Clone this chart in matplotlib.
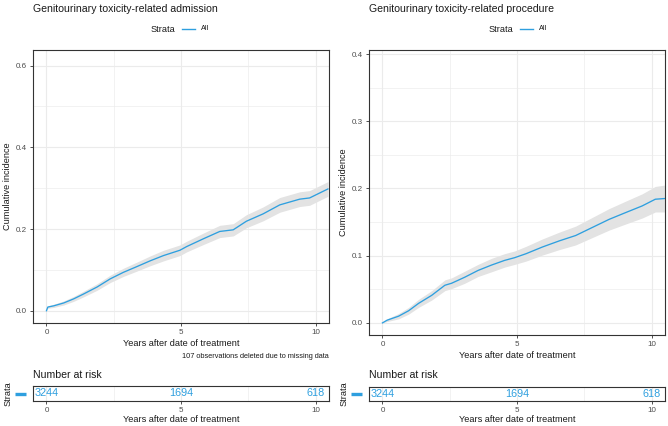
import matplotlib
matplotlib.use("Agg")
import matplotlib.pyplot as plt
from matplotlib.lines import Line2D

plt.rcParams['font.family'] = ['Liberation Sans', 'DejaVu Sans']

# ---- data ----
adm_time = [0, 0.05, 0.27, 0.64, 1.01, 1.38, 1.88, 2.37, 2.86, 3.36, 3.85, 4.35, 4.96,
            5.21, 5.83, 6.44, 6.94, 7.43, 8.05, 8.67, 9.41, 9.78, 10.15, 10.46]
adm_est = [0, 0.009, 0.012, 0.019, 0.029, 0.041, 0.058, 0.078, 0.094, 0.108, 0.122, 0.135, 0.148,
           0.157, 0.176, 0.194, 0.198, 0.219, 0.237, 0.259, 0.273, 0.276, 0.288, 0.298]
adm_lo = [0, 0.006, 0.008, 0.014, 0.023, 0.034, 0.050, 0.069, 0.084, 0.097, 0.110, 0.122, 0.135,
          0.144, 0.162, 0.179, 0.183, 0.203, 0.220, 0.241, 0.255, 0.258, 0.270, 0.280]
adm_hi = [0, 0.012, 0.016, 0.024, 0.035, 0.048, 0.066, 0.087, 0.104, 0.119, 0.134, 0.148, 0.161,
          0.170, 0.190, 0.209, 0.213, 0.235, 0.254, 0.277, 0.291, 0.294, 0.306, 0.316]

proc_time = [0, 0.17, 0.60, 0.97, 1.34, 1.83, 2.32, 2.57, 3.06, 3.55, 4.05, 4.54, 4.91,
             5.34, 5.95, 6.57, 7.18, 7.80, 8.42, 9.03, 9.65, 10.14, 10.48]
proc_est = [0, 0.004, 0.010, 0.018, 0.029, 0.041, 0.056, 0.059, 0.068, 0.078, 0.086, 0.093, 0.097,
            0.103, 0.113, 0.122, 0.130, 0.142, 0.154, 0.164, 0.174, 0.184, 0.185]
proc_lo = [0, 0.002, 0.006, 0.013, 0.023, 0.034, 0.048, 0.051, 0.059, 0.069, 0.076, 0.083, 0.087,
           0.092, 0.101, 0.109, 0.116, 0.127, 0.138, 0.147, 0.156, 0.165, 0.165]
proc_hi = [0, 0.006, 0.014, 0.023, 0.035, 0.048, 0.064, 0.067, 0.077, 0.087, 0.096, 0.103, 0.107,
           0.114, 0.125, 0.135, 0.144, 0.157, 0.170, 0.181, 0.192, 0.203, 0.205]

risk_times = [0, 5, 10]
risk_counts = [3244, 1694, 618]

titles = ["Genitourinary toxicity-related admission", "Genitourinary toxicity-related procedure"]
xlabel = "Years after date of treatment"
ylabel = "Cumulative incidence"
caption = "107 observations deleted due to missing data"

LINE_C = "#2E9FDF"
BAND_C = "#E3E3E3"
GRID_C = "#EBEBEB"
TICK_C = "#4D4D4D"

W, H = 668, 426
fig = plt.figure(figsize=(W / 100, H / 100), dpi=100)


def ax_px(x0, y0, x1, y1):
    return fig.add_axes([x0 / W, 1 - y1 / H, (x1 - x0) / W, (y1 - y0) / H])


def style(ax):
    for s in ax.spines.values():
        s.set_color("#333333")
        s.set_linewidth(0.8)
    ax.tick_params(axis='both', colors="#333333", labelcolor=TICK_C, labelsize=5.8,
                   length=2.5, width=0.6, pad=2)
    ax.tick_params(which='minor', length=0)
    ax.set_axisbelow(True)


def panel(box, risk_box, t, est, lo, hi, ylim, ymajor, yminor, title, ylabel_x, legend_x, strata_x):
    ax = ax_px(*box)
    ax.fill_between(t, lo, hi, color=BAND_C, lw=0)
    ax.plot(t, est, color=LINE_C, lw=0.95)
    ax.set_xlim(-0.5, 10.5)
    ax.set_ylim(*ylim)
    ax.set_xticks([0, 5, 10])
    ax.set_xticks([2.5, 7.5], minor=True)
    ax.set_yticks(ymajor)
    ax.set_yticks(yminor, minor=True)
    ax.grid(which='major', color=GRID_C, lw=0.8)
    ax.grid(which='minor', color=GRID_C, lw=0.45)
    style(ax)
    ax.set_xlabel(xlabel, fontsize=6.6, color="#1a1a1a", labelpad=2)
    fig.text(ylabel_x / W, 1 - ((box[1] + box[3]) / 2) / H, ylabel, rotation=90,
             ha='center', va='center', fontsize=6.6, color="#1a1a1a")
    fig.text(box[0] / W, 1 - 8.5 / H, title, fontsize=7.6, color="#1a1a1a", va='center', ha='left')
    # legend
    lx = legend_x
    fig.text(lx / W, 1 - 29 / H, "Strata", fontsize=6.6, color="#1a1a1a", va='center', ha='left')
    fig.add_artist(Line2D([(lx + 31) / W, (lx + 44) / W], [1 - 29 / H, 1 - 29 / H],
                          color=LINE_C, lw=1.0, transform=fig.transFigure))
    fig.text((lx + 50) / W, 1 - 29 / H, "All", fontsize=5.2, color="#1a1a1a", va='center', ha='left')

    # risk table
    rax = ax_px(*risk_box)
    rax.set_xlim(-0.5, 10.5)
    rax.set_ylim(0, 1)
    for tt, n in zip(risk_times, risk_counts):
        rax.text(tt, 0.5, str(n), color=LINE_C, fontsize=7.8, ha='center', va='center')
    rax.set_xticks([0, 5, 10])
    rax.set_xticks([2.5, 7.5], minor=True)
    rax.set_yticks([])
    rax.grid(axis='x', which='major', color=GRID_C, lw=0.8)
    rax.grid(axis='x', which='minor', color=GRID_C, lw=0.45)
    style(rax)
    rax.set_xlabel(xlabel, fontsize=6.6, color="#1a1a1a", labelpad=0.5)
    fig.text(risk_box[0] / W, 1 - 375 / H, "Number at risk", fontsize=7.6, color="#1a1a1a",
             va='center', ha='left')
    ymid = 1 - ((risk_box[1] + risk_box[3]) / 2) / H
    fig.text(strata_x / W, ymid, "Strata", rotation=90, fontsize=6.6, color="#1a1a1a",
             ha='center', va='center')
    fig.add_artist(Line2D([(strata_x + 7) / W, (strata_x + 18) / W], [ymid, ymid],
                          color=LINE_C, lw=2.4, transform=fig.transFigure, solid_capstyle='butt'))
    return ax


axL = panel((33, 50, 329, 323), (33, 386, 329, 401), adm_time, adm_est, adm_lo, adm_hi,
            (-0.03, 0.638), [0.0, 0.2, 0.4, 0.6], [0.1, 0.3, 0.5],
            titles[0], 7.5, 151, 8)
fig.text(329 / W, 1 - 357 / H, caption, fontsize=5.3, color="#1a1a1a", ha='right', va='center')

axR = panel((369, 50, 665, 335), (369, 387, 665, 401), proc_time, proc_est, proc_lo, proc_hi,
            (-0.018, 0.406), [0.0, 0.1, 0.2, 0.3, 0.4], [0.05, 0.15, 0.25, 0.35],
            titles[1], 343, 489, 344)

for a in (axL, axR):
    a.set_yticklabels([f"{v:.1f}" for v in a.get_yticks()])

fig.savefig("out.png", dpi=100)
